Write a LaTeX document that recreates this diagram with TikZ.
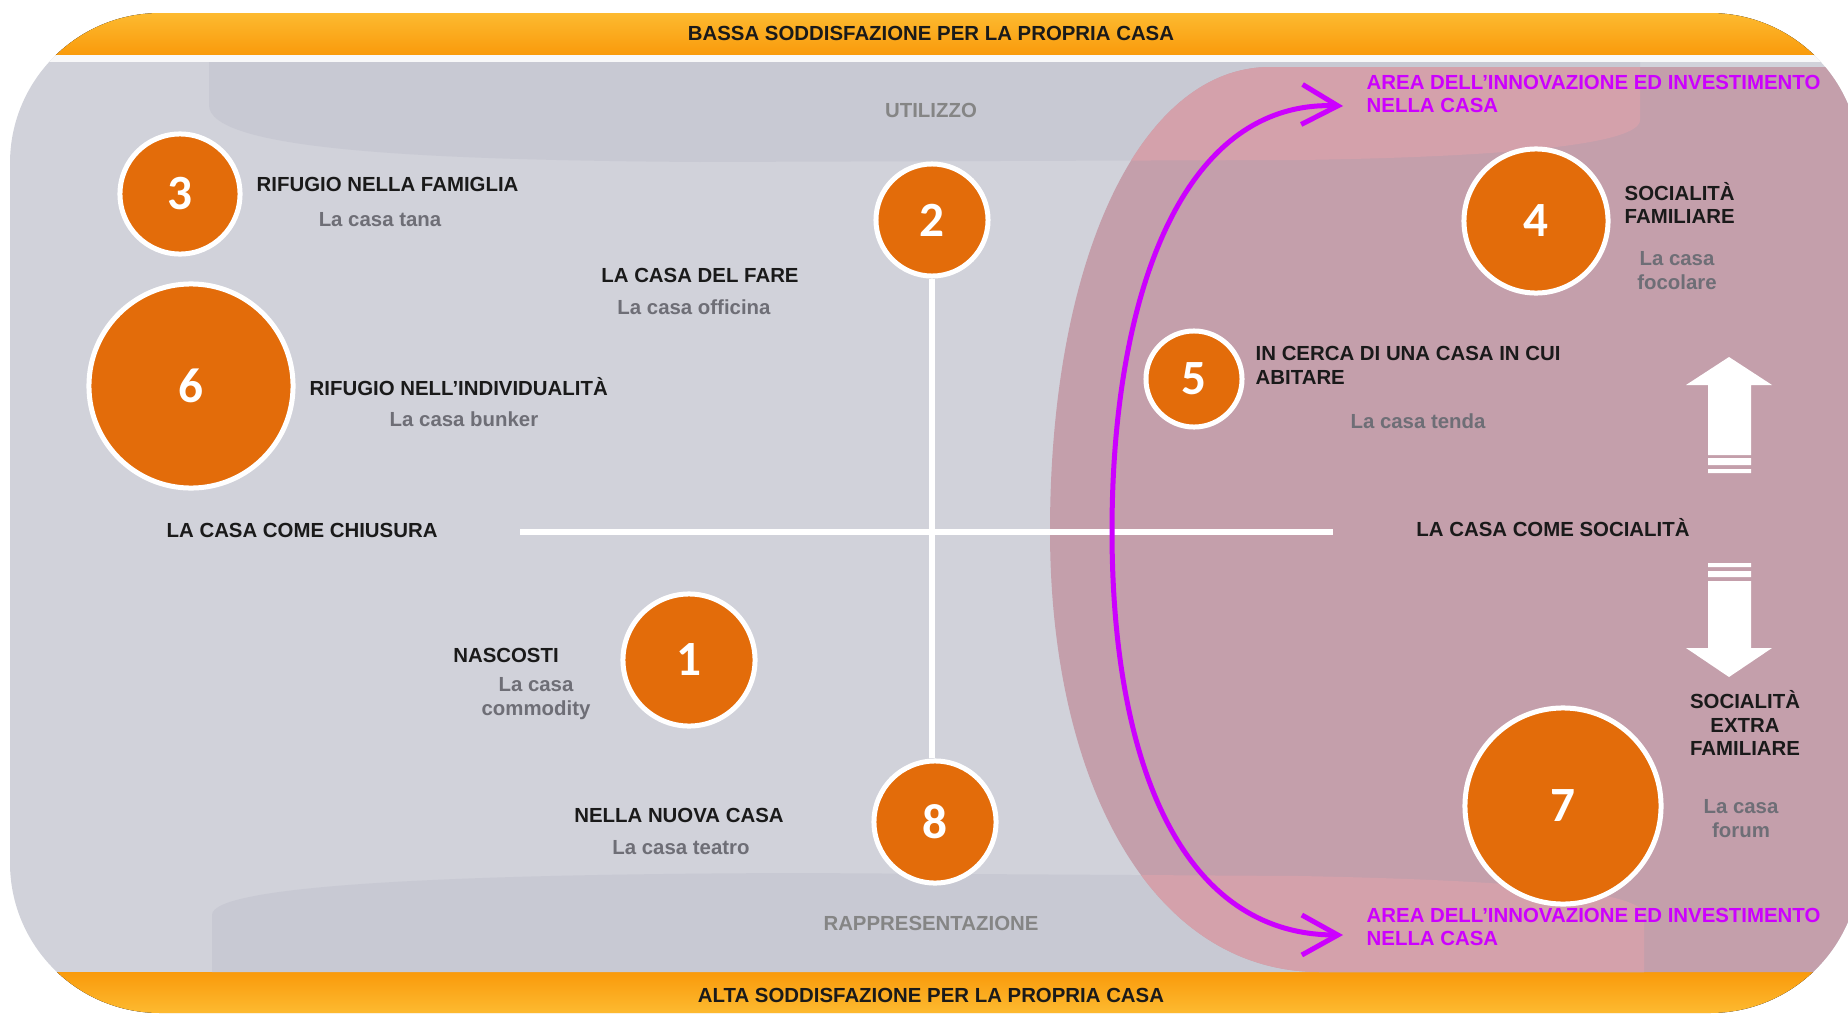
\documentclass[tikz,border=0pt]{standalone}
\usepackage{fontspec}
\setmainfont{Liberation Sans}
\newfontfamily\numfont{Carlito}
\usetikzlibrary{arrows.meta}

\definecolor{bodygray}{HTML}{D1D2DA}
\definecolor{lensgray}{HTML}{C8C9D3}
\definecolor{pinkbg}{HTML}{C49FAB}
\definecolor{pinklens}{HTML}{D4A1AB}
\definecolor{bandorange}{HTML}{F99A0B}
\definecolor{bandlight}{HTML}{FDBA30}
\definecolor{numorange}{HTML}{E36C0A}
\definecolor{innovpurple}{HTML}{CC00FF}
\definecolor{labelblack}{HTML}{1A1A1A}
\definecolor{subgray}{HTML}{6E6E76}
\definecolor{axisgray}{HTML}{858585}

\newcommand{\pinkshape}{(1900,67) -- (1270,67) .. controls (1140,67) and (1050,260) .. (1050,531) .. controls (1050,780) and (1150,972) .. (1320,972) -- (1900,972) -- cycle}

\begin{document}
\begin{tikzpicture}[x=0.01cm,y=-0.01cm,
  num/.style={shape=circle, draw=white, line width=0.05cm, fill=numorange, text=white, inner sep=0pt, font=\numfont\bfseries\fontsize{14}{14}\selectfont},
  lab/.style={font=\bfseries\fontsize{5.8}{6.8}\selectfont, text=labelblack, inner sep=0pt},
  sub/.style={font=\bfseries\fontsize{5.8}{6.8}\selectfont, text=subgray, inner sep=0pt, align=center},
  pole/.style={font=\bfseries\fontsize{5.8}{6.8}\selectfont, text=axisgray, inner sep=0pt},
  innov/.style={font=\bfseries\fontsize{5.8}{6.8}\selectfont, text=innovpurple, inner sep=0pt, align=left},
  axis/.style={draw=white, line width=0.06cm},
  innovbarb/.tip={Straight Barb[length=3.6mm,width=4mm]}]
\useasboundingbox (0,0) rectangle (1848,1015);

%%% background
\begin{scope}
\clip[rounded corners=1.5cm] (10,13) rectangle (1860,1013);
\fill[bodygray] (0,0) rectangle (1900,1015);
\fill[top color=bandlight, bottom color=bandorange] (0,13) rectangle (1900,55);
\fill[white!85!bodygray] (0,55) rectangle (1900,62);
\fill[top color=bandorange, bottom color=bandlight] (0,972) rectangle (1900,1013);
\fill[lensgray] (209,62) -- (209,105) .. controls (209,150) and (420,160) .. (700,162) -- (1300,160) .. controls (1500,157) and (1640,145) .. (1640,120) -- (1640,62) -- cycle;
\fill[lensgray] (212,972) -- (212,915) .. controls (212,885) and (450,874) .. (800,873) -- (1300,876) .. controls (1500,880) and (1644,890) .. (1644,915) -- (1644,972) -- cycle;
\fill[pinkbg] \pinkshape;
\begin{scope}
\clip \pinkshape;
\fill[pinklens] (209,62) -- (209,105) .. controls (209,150) and (420,160) .. (700,162) -- (1300,160) .. controls (1500,157) and (1640,145) .. (1640,120) -- (1640,62) -- cycle;
\fill[pinklens] (212,972) -- (212,915) .. controls (212,885) and (450,874) .. (800,873) -- (1300,876) .. controls (1500,880) and (1644,890) .. (1644,915) -- (1644,972) -- cycle;
\end{scope}
\end{scope}

\node[lab] (bassa) at (931,33) {BASSA SODDISFAZIONE PER LA PROPRIA CASA};
\node[lab] (alta) at (931,995) {ALTA SODDISFAZIONE PER LA PROPRIA CASA};
\node[pole] (util) at (931,110) {UTILIZZO};
\node[pole] (rappr) at (931,923) {RAPPRESENTAZIONE};

%%% axes
\coordinate (hl) at (520,532);
\coordinate (hr) at (1333,532);
\draw[axis] (hl) -- (hr);

%%% circles
\node[num, minimum size=1.20cm] (c3) at (180,194) {3};
\node[num, minimum size=1.12cm] (c2) at (932,220) {2};
\node[num, minimum size=2.04cm] (c6) at (191,386) {6};
\node[num, minimum size=1.44cm] (c4) at (1536,221) {4};
\node[num, minimum size=0.96cm] (c5) at (1194,379) {5};
\node[num, minimum size=1.32cm] (c1) at (689,660) {1};
\node[num, minimum size=1.22cm] (c8) at (935,822) {8};
\node[num, minimum size=1.96cm] (c7) at (1563,806) {7};
\draw[axis] (c2) -- (c2 |- c8.north);

%%% labels
\node[lab, anchor=west] (l3) at (256,184) {RIFUGIO NELLA FAMIGLIA};
\node[sub] (s3) at (380,220) {La casa tana};
\node[lab] (l2) at (700,275) {LA CASA DEL FARE};
\node[sub] (s2) at (694,307) {La casa officina};
\node[lab, anchor=west] (l6) at (309,387) {RIFUGIO NELL’INDIVIDUALITÀ};
\node[sub] (s6) at (464,419) {La casa bunker};
\node[lab, anchor=west] (chiu) at (166,530) {LA CASA COME CHIUSURA};
\node[lab] (l1) at (506,655) {NASCOSTI};
\node[sub] (s1) at (536,699) {La casa\\commodity};
\node[lab] (l8) at (679,815) {NELLA NUOVA CASA};
\node[sub] (s8) at (681,848) {La casa teatro};
\node[lab, anchor=west, align=left] (l4) at (1624,203) {SOCIALITÀ\\FAMILIARE};
\node[sub] (s4) at (1677,271) {La casa\\focolare};
\node[lab, anchor=west, align=left] (l5) at (1255,365) {IN CERCA DI UNA CASA IN CUI\\ABITARE};
\node[sub] (s5) at (1418,421) {La casa tenda};
\node[lab] (soc) at (1553,528) {LA CASA COME SOCIALITÀ};
\node[lab, align=center] (l7) at (1745,723) {SOCIALITÀ\\EXTRA\\FAMILIARE};
\node[sub] (s7) at (1741,819) {La casa\\forum};

%%% innovation area
\node[innov, anchor=west] (areatop) at (1366,94) {AREA DELL’INNOVAZIONE ED INVESTIMENTO\\NELLA CASA};
\node[innov, anchor=west] (areabot) at (1366,927) {AREA DELL’INNOVAZIONE ED INVESTIMENTO\\NELLA CASA};
\coordinate (itop) at (1343,106);
\coordinate (ibot) at (1343,935);
\draw[innovpurple, line width=0.05cm, innovbarb-innovbarb] (itop) .. controls (1180,100) and (1112,300) .. (1112,531) .. controls (1112,760) and (1180,935) .. (ibot);

%%% white arrows
\fill[white] (1729,357) -- (1772,385) -- (1751,385) -- (1751,455) -- (1708,455) -- (1708,385) -- (1686,385) -- cycle;
\fill[white] (1708,458) rectangle (1751,465) (1708,469) rectangle (1751,473);
\fill[white] (1708,563) rectangle (1751,567) (1708,571) rectangle (1751,577);
\fill[white] (1708,581) -- (1751,581) -- (1751,648) -- (1772,648) -- (1729,677) -- (1686,648) -- (1708,648) -- cycle;

\end{tikzpicture}
\end{document}
